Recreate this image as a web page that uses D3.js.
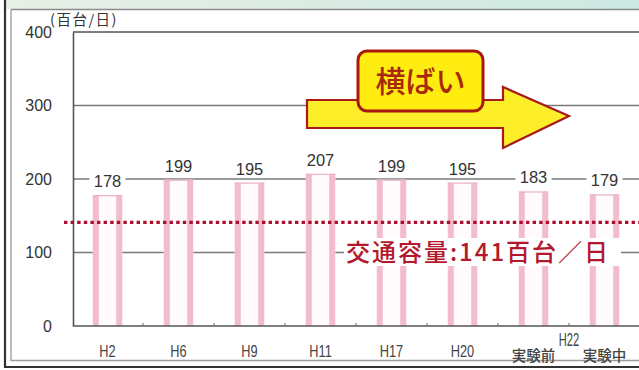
<!DOCTYPE html>
<html>
<head>
<meta charset="utf-8">
<script src="https://cdn.jsdelivr.net/npm/d3@7/dist/d3.min.js"></script>
<style>
  html, body { margin: 0; padding: 0; background: #fff; }
  svg { display: block; }
  text { font-family: "Liberation Sans", Arial, sans-serif; }
  .jp { font-family: "Noto Sans CJK JP", "Noto Sans CJK SC", sans-serif; }
</style>
</head>
<body>
<svg id="chart" width="639" height="370"></svg>
<script>
// Traffic volume by survey year (hundreds of vehicles per day)
const categories = ["H2", "H6", "H9", "H11", "H17", "H20", "実験前", "実験中"];
const volumes = [178, 199, 195, 207, 199, 195, 183, 179];
const yTicks = [0, 100, 200, 300, 400];
const capacity = 141;
const capacityLabel = "交通容量:141百台／日";
const trendLabel = "横ばい";
const unitLabel = "(百台/日)";
const groupLabel = "H22";

const W = 639, H = 370;
const svg = d3.select("#chart");

const x = d3.scaleBand()
  .domain(categories)
  .range([72, 640])
  .paddingInner(0.585)
  .paddingOuter(0.2925);

const y = d3.scaleLinear().domain([0, 400]).range([326, 32]);
const plotLeft = 73, plotRight = W;

// ---- outer panel frame ----
const topBand = svg.append("defs").append("linearGradient")
  .attr("id", "topBand").attr("x1", 0).attr("x2", 1).attr("y1", 0).attr("y2", 0);
topBand.append("stop").attr("offset", "0%").attr("stop-color", "#e8efe6");
topBand.append("stop").attr("offset", "100%").attr("stop-color", "#cde9e2");
svg.append("rect").attr("x", 6).attr("y", 0).attr("width", W - 6).attr("height", 9)
  .attr("fill", "url(#topBand)");
svg.append("line").attr("x1", 11).attr("x2", W).attr("y1", 9.5).attr("y2", 9.5)
  .attr("stroke", "#8a8a8a").attr("stroke-width", 1.5);
// outer dark border
svg.append("path").attr("d", `M5,0 V367 H${W}`)
  .attr("fill", "none").attr("stroke", "#333").attr("stroke-width", 2.2);
// inner light border
svg.append("path").attr("d", `M11,9.5 V360.5 H${W}`)
  .attr("fill", "none").attr("stroke", "#9a9a9a").attr("stroke-width", 1.3);

// ---- gridlines ----
svg.append("g").selectAll("line").data(yTicks.filter(d => d > 0)).join("line")
  .attr("x1", plotLeft).attr("x2", plotRight)
  .attr("y1", d => y(d)).attr("y2", d => y(d))
  .attr("stroke", d => d === 400 ? "#555" : "#7a7a7a")
  .attr("stroke-width", d => d === 400 ? 1.6 : 1.3);

// ---- y axis ----
const yAxis = d3.axisLeft(y).tickValues(yTicks).tickSize(0).tickPadding(21);
const gy = svg.append("g").attr("transform", `translate(${plotLeft},0)`).call(yAxis);
gy.select(".domain").attr("stroke", "#555").attr("stroke-width", 1.6);
gy.selectAll("text").attr("font-size", 16).attr("fill", "#333")
  .attr("font-family", "'Liberation Sans', Arial, sans-serif");

svg.append("text").attr("class", "jp")
  .attr("x", 50).attr("y", 25)
  .attr("font-size", 14.5).attr("letter-spacing", 1.5).attr("fill", "#333")
  .text(unitLabel);

// ---- bars: white body with soft pink sides ----
const stripe = 6;
const bars = svg.append("g").selectAll("g").data(categories).join("g");
bars.append("rect")
  .attr("x", d => x(d)).attr("width", x.bandwidth())
  .attr("y", (d, i) => y(volumes[i])).attr("height", (d, i) => y(0) - y(volumes[i]))
  .attr("fill", "#fffafc");
bars.append("rect")
  .attr("x", d => x(d)).attr("width", stripe)
  .attr("y", (d, i) => y(volumes[i])).attr("height", (d, i) => y(0) - y(volumes[i]))
  .attr("fill", "#f3bccb");
bars.append("rect")
  .attr("x", d => x(d) + x.bandwidth() - stripe).attr("width", stripe)
  .attr("y", (d, i) => y(volumes[i])).attr("height", (d, i) => y(0) - y(volumes[i]))
  .attr("fill", "#f3bccb");
bars.append("line")
  .attr("x1", d => x(d)).attr("x2", d => x(d) + x.bandwidth())
  .attr("y1", (d, i) => y(volumes[i]) + 0.5).attr("y2", (d, i) => y(volumes[i]) + 0.5)
  .attr("stroke", "#eab2c2").attr("stroke-width", 1.2);

// ---- value labels ----
const vl = svg.append("g").selectAll("g").data(categories).join("g")
  .attr("transform", (d, i) => `translate(${x(d) + x.bandwidth() / 2},${y(volumes[i]) - 14})`);
vl.append("rect").attr("x", -18).attr("y", -9).attr("width", 36).attr("height", 18)
  .attr("fill", "#fff");
vl.append("text").attr("text-anchor", "middle").attr("dy", "0.36em")
  .attr("font-size", 16.5).attr("fill", "#333")
  .text((d, i) => volumes[i]);

// ---- capacity line ----
svg.append("line")
  .attr("x1", 64).attr("x2", plotRight)
  .attr("y1", y(capacity)).attr("y2", y(capacity))
  .attr("stroke", "#a8102c").attr("stroke-width", 3.4)
  .attr("stroke-dasharray", "3.4,3.2");

svg.append("rect").attr("x", 344).attr("y", 238).attr("width", 277).attr("height", 28)
  .attr("fill", "#fff");
svg.append("text").attr("class", "jp")
  .attr("x", 478).attr("y", 252).attr("dy", "0.36em")
  .attr("text-anchor", "middle")
  .attr("font-size", 24).attr("font-weight", 500).attr("letter-spacing", 2)
  .attr("fill", "#b3182c")
  .text(capacityLabel);

// ---- trend arrow callout ----
const arrow = [
  [307, 100], [503, 100], [503, 87], [569, 116],
  [503, 148], [503, 128], [307, 128]
];
svg.append("path")
  .attr("d", d3.line()(arrow) + "Z")
  .attr("fill", "#fcef2a").attr("stroke", "#a81a1a")
  .attr("stroke-width", 2.2).attr("stroke-linejoin", "miter");
svg.append("rect")
  .attr("x", 358).attr("y", 51).attr("width", 125).attr("height", 60)
  .attr("rx", 9).attr("ry", 9)
  .attr("fill", "#ffec10").attr("stroke", "#a8180e").attr("stroke-width", 3);
svg.append("text").attr("class", "jp")
  .attr("x", 420.5).attr("y", 81).attr("dy", "0.36em")
  .attr("text-anchor", "middle")
  .attr("font-size", 30).attr("font-weight", 500).attr("fill", "#a8280e")
  .text(trendLabel);

// ---- x axis ----
const xAxisY = y(0);
svg.append("line").attr("x1", plotLeft).attr("x2", plotRight)
  .attr("y1", xAxisY).attr("y2", xAxisY)
  .attr("stroke", "#555").attr("stroke-width", 1.6);
const boundaries = categories.slice(1).map(d => x(d) - x.step() * x.paddingInner() / 2);
svg.append("g").selectAll("line").data(boundaries).join("line")
  .attr("x1", d => d).attr("x2", d => d)
  .attr("y1", xAxisY).attr("y2", xAxisY - 3)
  .attr("stroke", "#666").attr("stroke-width", 1);

// category labels: era years in a condensed face, experiment phases in CJK
const isYear = d => /^H/.test(d);
svg.append("g").selectAll("g").data(categories).join("g")
  .attr("transform", d => `translate(${x(d) + x.bandwidth() / 2},${isYear(d) ? 351 : 356}) scale(${isYear(d) ? 0.8 : 1},1)`)
  .append("text")
  .attr("class", d => isYear(d) ? null : "jp")
  .attr("text-anchor", "middle").attr("dy", "0.36em")
  .attr("font-size", d => isYear(d) ? 16 : 14.5)
  .attr("font-weight", d => isYear(d) ? null : 500)
  .attr("fill", "#444")
  .text(d => d);

// group label above the two H22 categories, condensed
svg.append("g")
  .attr("transform", `translate(${boundaries[boundaries.length - 1]},340) scale(0.62,1)`)
  .append("text")
  .attr("text-anchor", "middle").attr("dy", "0.36em")
  .attr("font-size", 18).attr("fill", "#444")
  .text(groupLabel);
</script>
</body>
</html>
